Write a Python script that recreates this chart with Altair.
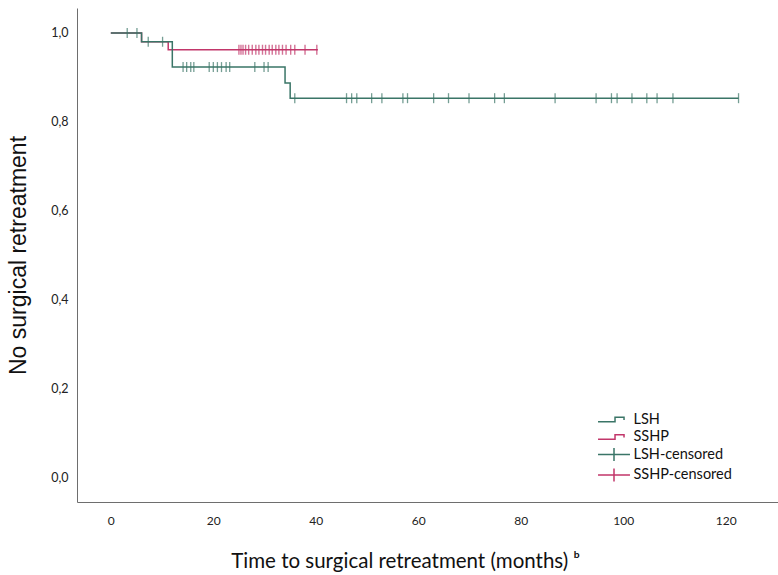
import altair as alt
import pandas as pd

GREEN = "#3a7567"
RED = "#c2366a"

# Kaplan-Meier step curves (event times, survival after the step)
lsh_times = [0, 6, 12, 34, 35, 122.5]
lsh_surv = [1.0, 0.98, 0.923, 0.887, 0.853, 0.853]
sshp_times = [0, 6, 11.2, 40.4]
sshp_surv = [1.0, 0.98, 0.962, 0.962]

# censored observations
lsh_cens_t = [3.2, 5.1, 7.3, 10.1, 14.1, 14.8, 15.6, 16.2, 19.2, 20.0, 20.8, 21.6,
              22.5, 23.2, 28.1, 29.9, 30.7, 35.9, 46.0, 47.0, 48.0, 50.9, 52.9,
              57.0, 57.9, 63.0, 65.9, 69.9, 74.9, 76.8, 86.7, 94.7, 97.7, 98.8,
              101.7, 104.6, 106.6, 109.7, 122.5]
lsh_cens_s = [1.0, 1.0, 0.98, 0.98, 0.923, 0.923, 0.923, 0.923, 0.923, 0.923, 0.923,
              0.923, 0.923, 0.923, 0.923, 0.923, 0.923, 0.853, 0.853, 0.853, 0.853,
              0.853, 0.853, 0.853, 0.853, 0.853, 0.853, 0.853, 0.853, 0.853, 0.853,
              0.853, 0.853, 0.853, 0.853, 0.853, 0.853, 0.853, 0.853]
sshp_cens_t = [25.0, 25.4, 25.8, 26.3, 26.9, 27.6, 28.3, 28.9, 29.6, 30.2, 30.9,
               31.5, 32.2, 32.8, 33.5, 34.2, 35.1, 35.9, 37.9, 40.2]
sshp_cens_s = [0.962, 0.962, 0.962, 0.962, 0.962, 0.962, 0.962, 0.962, 0.962, 0.962,
               0.962, 0.962, 0.962, 0.962, 0.962, 0.962, 0.962, 0.962, 0.962, 0.962]

legend_labels = ["LSH", "SSHP", "LSH-censored", "SSHP-censored"]
legend_colors = [GREEN, RED, GREEN, RED]
STEP = "M-1.88,0.27H0.12V-0.27H1.18V0.05"
CROSS = "M-1.88,0H1.88M0,-0.76V0.76"
legend_shapes = [STEP, STEP, CROSS, CROSS]

x_ticks = [0, 20, 40, 60, 80, 100, 120]
y_ticks = [0.0, 0.2, 0.4, 0.6, 0.8, 1.0]

lsh_df = pd.DataFrame({"t": lsh_times, "s": lsh_surv})
sshp_df = pd.DataFrame({"t": sshp_times, "s": sshp_surv})
lsh_c = pd.DataFrame({"t": lsh_cens_t, "s": lsh_cens_s})
sshp_c = pd.DataFrame({"t": sshp_cens_t, "s": sshp_cens_s})
leg_df = pd.DataFrame({"label": legend_labels, "t": [0, 0, 0, 0], "s": [1.0, 1.0, 1.0, 1.0]})

xscale = alt.Scale(domain=[-6.6, 130.2], nice=False, zero=False)
yscale = alt.Scale(domain=[-0.056, 1.056], nice=False, zero=False)

xaxis = alt.Axis(values=x_ticks, ticks=False, tickSize=0, grid=False, domainColor="#6e6e6e",
                 labelFont="Lato", labelFontSize=12, labelColor="#222", labelPadding=13,
                 title="Time to surgical retreatment (months) ᵇ", titleFont="Lato",
                 titleFontSize=20.5, titleFontWeight="normal", titleColor="#111",
                 titleX=328, titleY=59, titleAlign="center", titleBaseline="middle")
yaxis = alt.Axis(values=y_ticks, format=".1f", labelExpr="replace(datum.label, '.', ',')",
                 ticks=False, tickSize=0, grid=False, domainColor="#6e6e6e",
                 labelFont="Lato", labelFontSize=12.5, labelColor="#222", labelPadding=9,
                 title="No surgical retreatment", titleFont="Liberation Sans",
                 titleFontSize=23, titleFontWeight="normal", titleColor="#111",
                 titleX=-59, titleY=247, titleAngle=-90, titleAlign="center",
                 titleBaseline="middle")

X = alt.X("t:Q", scale=xscale, axis=xaxis)
Y = alt.Y("s:Q", scale=yscale, axis=yaxis)

sshp_line = alt.Chart(sshp_df).mark_line(interpolate="step-after", color=RED,
                                         strokeWidth=1.5).encode(x=X, y=Y)
lsh_line = alt.Chart(lsh_df).mark_line(interpolate="step-after", color=GREEN,
                                       strokeWidth=1.5).encode(x=X, y=Y)
lsh_ticks = alt.Chart(lsh_c).mark_tick(orient="vertical", size=10, thickness=1.3,
                                       color=GREEN).encode(x=X, y=Y)
sshp_ticks = alt.Chart(sshp_c).mark_tick(orient="vertical", size=10, thickness=1.4,
                                         color=RED).encode(x=X, y=Y)

leg = alt.Legend(title=None, orient="none", legendX=527.5, legendY=402,
                 symbolSize=289, symbolStrokeWidth=1.5, symbolOpacity=1,
                 symbolFillColor="transparent", labelFont="Lato", labelFontSize=14.5,
                 labelColor="#111", labelOffset=10, rowPadding=1.5, padding=0)
legend_layer = alt.Chart(leg_df).mark_point(opacity=0, filled=False).encode(
    x=X, y=Y,
    color=alt.Color("label:N", scale=alt.Scale(domain=legend_labels, range=legend_colors),
                    legend=leg),
    shape=alt.Shape("label:N", scale=alt.Scale(domain=legend_labels, range=legend_shapes),
                    legend=leg),
)

chart = alt.layer(sshp_line, lsh_line, sshp_ticks, lsh_ticks, legend_layer).properties(
    width=701, height=494,
    autosize=alt.AutoSizeParams(type="none"),
    padding={"left": 77, "top": 8, "right": 0, "bottom": 73},
    background="white",
).configure_view(stroke=None)

chart.save("out.html", embed_options={"renderer": "svg", "actions": False})
